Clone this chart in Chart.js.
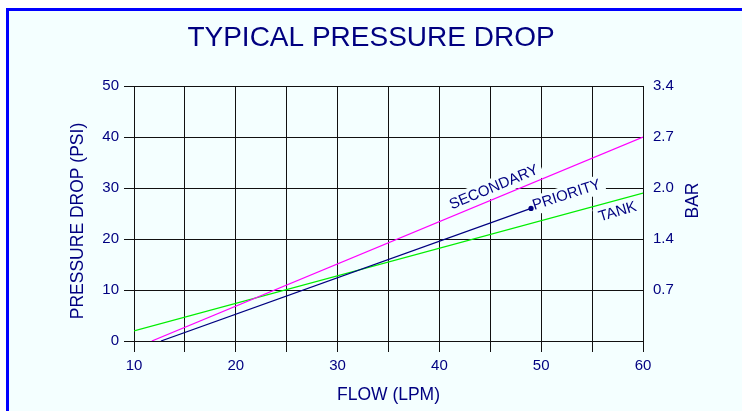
<!DOCTYPE html>
<html>
<head>
<meta charset="utf-8">
<title>Typical Pressure Drop</title>
<script src="https://cdn.jsdelivr.net/npm/chart.js@4.4.1/dist/chart.umd.min.js"></script>
<style>
  html, body { margin: 0; padding: 0; background: #ffffff; overflow: hidden; }
  #frame { position: absolute; left: 6px; top: 8px; width: 800px; height: 460px; border: 3px solid #0000ff; background: #f4ffff; }
  #chart { position: absolute; left: 0; top: 0; }
</style>
</head>
<body>
<div id="frame"></div>
<canvas id="chart" width="742" height="411"></canvas>
<script>
  // series: flow (LPM) -> pressure drop (PSI)
  const flowSecondary = [11.75, 60];
  const psiSecondary = [0, 40];
  const flowPriority = [12.65, 49];
  const psiPriority = [0, 26];
  const flowTank = [10, 60];
  const psiTank = [2, 29];

  const seriesNames = ["SECONDARY", "PRIORITY", "TANK"];
  const barTickLabels = ["", "0.7", "1.4", "2.0", "2.7", "3.4"];

  // where the in-plot names sit (data units) and their slant
  const labelFlow = [45.36, 52.5, 57.5];
  const labelPsi = [30.1, 28.6, 25.3];
  const labelAngle = [-22.5, -18, -17];

  const FONT = "'Liberation Sans', Arial, Helvetica, sans-serif";
  const NAVY = "#000080";
  const BG = "#f4ffff";
  const GRID = "#111111";

  function toPoints(xs, ys) {
    return xs.map((x, i) => ({ x, y: ys[i] }));
  }

  const seriesLabels = {
    id: "seriesLabels",
    beforeDatasetsDraw(chart) {
      const { ctx, scales } = chart;
      ctx.save();
      ctx.font = "15px " + FONT;
      ctx.textAlign = "center";
      ctx.textBaseline = "middle";
      seriesNames.forEach((name, i) => {
        const px = scales.x.getPixelForValue(labelFlow[i]);
        const py = scales.y.getPixelForValue(labelPsi[i]);
        ctx.save();
        ctx.translate(px, py);
        ctx.rotate(labelAngle[i] * Math.PI / 180);
        const w = ctx.measureText(name).width + 8;
        const h = 19;
        ctx.fillStyle = BG;
        ctx.fillRect(-w / 2, -h / 2, w, h);
        ctx.fillStyle = NAVY;
        ctx.fillText(name, 0, 0);
        ctx.restore();
      });
      ctx.restore();
    }
  };

  const sideTitles = {
    id: "sideTitles",
    afterDraw(chart) {
      const ctx = chart.ctx;
      ctx.save();
      ctx.font = "17.5px " + FONT;
      ctx.fillStyle = NAVY;
      ctx.textAlign = "center";
      ctx.textBaseline = "middle";
      ctx.translate(78.5, 221);
      ctx.rotate(-Math.PI / 2);
      ctx.fillText("PRESSURE DROP (PSI)", 0, 0);
      ctx.restore();

      ctx.save();
      ctx.font = "17.5px " + FONT;
      ctx.fillStyle = NAVY;
      ctx.textAlign = "center";
      ctx.textBaseline = "middle";
      ctx.translate(693, 200.5);
      ctx.rotate(-Math.PI / 2);
      ctx.fillText("BAR", 0, 0);
      ctx.restore();
    }
  };

  const tickFont = { family: FONT, size: 15 };

  new Chart(document.getElementById("chart"), {
    type: "scatter",
    data: {
      datasets: [
        {
          label: seriesNames[0],
          data: toPoints(flowSecondary, psiSecondary),
          showLine: true,
          borderColor: "#ff00ff",
          borderWidth: 1.2,
          pointRadius: 0
        },
        {
          label: seriesNames[1],
          data: toPoints(flowPriority, psiPriority),
          showLine: true,
          borderColor: NAVY,
          borderWidth: 1.2,
          pointRadius: [0, 2.6],
          pointBorderWidth: 0,
          pointBackgroundColor: NAVY
        },
        {
          label: seriesNames[2],
          data: toPoints(flowTank, psiTank),
          showLine: true,
          borderColor: "#00ee00",
          borderWidth: 1.2,
          pointRadius: 0
        }
      ]
    },
    options: {
      responsive: false,
      animation: false,
      layout: { padding: 0 },
      plugins: {
        legend: { display: false },
        tooltip: { enabled: false },
        title: {
          display: true,
          text: "TYPICAL PRESSURE DROP",
          color: NAVY,
          font: { family: FONT, size: 28, weight: "normal" },
          padding: { top: 21.5, bottom: 30.9 }
        }
      },
      scales: {
        x: {
          type: "linear",
          min: 10,
          max: 60,
          afterFit: (scale) => { scale.height = 70; },
          grid: { color: GRID, lineWidth: 1, tickLength: 11, tickColor: GRID },
          border: { color: GRID },
          ticks: {
            stepSize: 5,
            autoSkip: false,
            maxRotation: 0,
            padding: 5,
            color: NAVY,
            font: tickFont,
            callback: (v) => (v % 10 === 0 ? String(v) : "")
          },
          title: {
            display: true,
            text: "FLOW (LPM)",
            color: NAVY,
            font: { family: FONT, size: 17.5 },
            padding: { top: 0, bottom: 5 }
          }
        },
        y: {
          position: "left",
          min: 0,
          max: 50,
          afterFit: (scale) => { scale.width = 134; },
          grid: { color: GRID, lineWidth: 1, tickLength: 10, tickColor: GRID },
          border: { color: GRID },
          ticks: { stepSize: 10, padding: 5, color: NAVY, font: tickFont }
        },
        y2: {
          position: "right",
          min: 0,
          max: 50,
          afterFit: (scale) => { scale.width = 99; },
          grid: { display: false, drawTicks: false },
          border: { color: GRID },
          ticks: {
            stepSize: 10,
            padding: 10,
            color: NAVY,
            font: tickFont,
            callback: (v, i) => barTickLabels[i]
          }
        }
      }
    },
    plugins: [seriesLabels, sideTitles]
  });
</script>
</body>
</html>
